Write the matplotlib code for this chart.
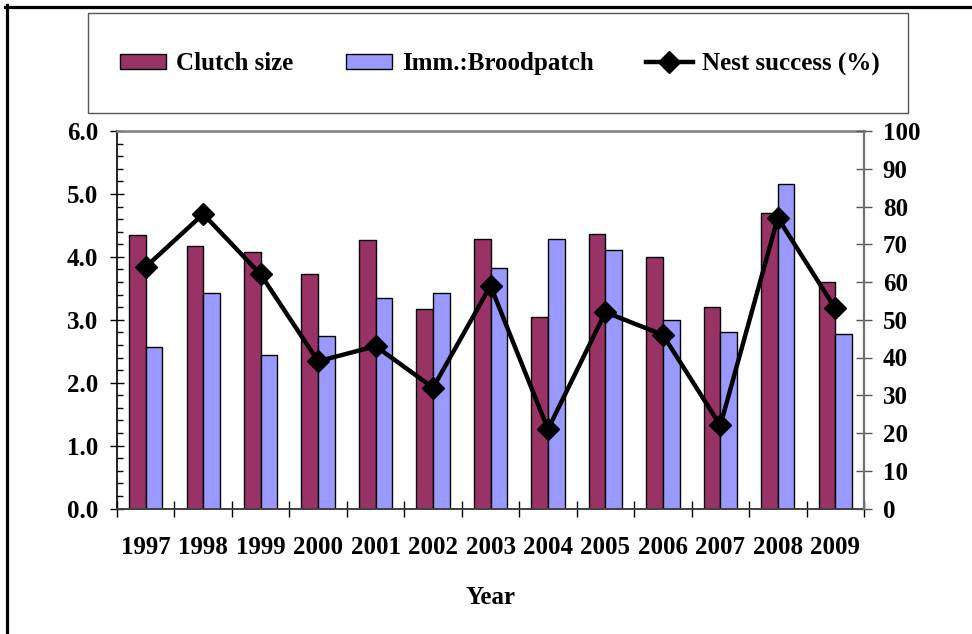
import numpy as np
import matplotlib
matplotlib.use('Agg')
import matplotlib.pyplot as plt
from matplotlib.patches import Rectangle
from matplotlib.lines import Line2D
from matplotlib.ticker import MultipleLocator

years = ['1997', '1998', '1999', '2000', '2001', '2002', '2003',
         '2004', '2005', '2006', '2007', '2008', '2009']
clutch_size = [4.35, 4.17, 4.07, 3.73, 4.27, 3.17, 4.29, 3.05, 4.37, 3.99, 3.20, 4.70, 3.60]
imm_broodpatch = [2.56, 3.43, 2.44, 2.74, 3.35, 3.43, 3.83, 4.29, 4.11, 2.99, 2.81, 5.16, 2.77]
nest_success = [64, 78, 62, 39, 43, 32, 59, 21, 52, 46, 22, 77, 53]

RED = '#993366'
BLUE = '#9999FF'

plt.rcParams['font.family'] = ['Liberation Serif', 'DejaVu Serif']
plt.rcParams['font.weight'] = 'bold'
FS = 18

W, H = 972, 634
fig = plt.figure(figsize=(W / 100, H / 100), dpi=100, facecolor='white')

# axes placed by pixel bounds of the reference plot area
x0, x1, ytop, ybot = 117, 864, 131, 508.5
ax = fig.add_axes([x0 / W, 1 - ybot / H, (x1 - x0) / W, (ybot - ytop) / H])
ax2 = ax.twinx()

x = np.arange(len(years))
bw = 0.29
ax.bar(x - bw / 2, clutch_size, bw, color=RED, edgecolor='black', linewidth=1.0,
       label='Clutch size', zorder=2)
ax.bar(x + bw / 2, imm_broodpatch, bw, color=BLUE, edgecolor='black', linewidth=1.0,
       label='Imm.:Broodpatch', zorder=2)
ax2.plot(x, nest_success, color='black', linewidth=3.2, marker='D', markersize=11,
         markerfacecolor='black', markeredgecolor='black', label='Nest success (%)')

ax.set_xlim(-0.5, len(years) - 0.5)
ax.set_ylim(0, 6)
ax2.set_ylim(0, 100)

ax.set_yticks(np.arange(0, 6.01, 1.0))
ax.set_yticklabels([f'{v:.1f}' for v in np.arange(0, 6.01, 1.0)])
ax.yaxis.set_minor_locator(MultipleLocator(0.2))
ax.tick_params(axis='y', which='major', direction='inout', length=9.5, width=1.0,
               labelsize=FS, pad=9)
ax.tick_params(axis='y', which='minor', direction='in', length=4.5, width=1.0)

ax2.set_yticks(np.arange(0, 101, 10))
ax2.tick_params(axis='y', which='major', direction='inout', length=11, width=1.0,
                labelsize=FS, pad=8, color='#555555')

ax.set_xticks(x)
ax.set_xticklabels(years)
ax.tick_params(axis='x', which='major', length=0, labelsize=FS, pad=20)
ax.set_xticks(np.arange(-0.5, len(years)), minor=True)
ax.tick_params(axis='x', which='minor', direction='inout', length=12, width=1.0)

for lab in ax.get_xticklabels() + ax.get_yticklabels() + ax2.get_yticklabels():
    lab.set_fontweight('bold')

ax.set_xlabel('Year', fontsize=FS, fontweight='bold', labelpad=19)

ax.spines['top'].set_color('#808080')
ax.spines['top'].set_linewidth(1.8)
ax.spines['left'].set_color('black')
ax.spines['left'].set_linewidth(1.2)
ax.spines['bottom'].set_color('#404040')
ax.spines['bottom'].set_linewidth(1.4)
ax.spines['right'].set_visible(False)
for s in ['top', 'left', 'bottom']:
    ax2.spines[s].set_visible(False)
ax2.spines['right'].set_color('#707070')
ax2.spines['right'].set_linewidth(1.6)

# legend box drawn separately, legend centred inside it
fig.patches.append(Rectangle((88 / W, 1 - 113 / H), (908 - 88) / W, (113 - 13) / H,
                             transform=fig.transFigure, facecolor='none',
                             edgecolor='#555555', linewidth=1.0))
h1, l1 = ax.get_legend_handles_labels()
h2, l2 = ax2.get_legend_handles_labels()
leg = fig.legend(h1 + h2, l1 + l2, loc='center', bbox_to_anchor=(500 / W, 1 - 64 / H),
                 ncol=3, frameon=False, handlelength=1.85, handleheight=0.56,
                 handletextpad=0.4, columnspacing=2.1,
                 prop={'size': FS, 'weight': 'bold'})

# outer frame (left and top edges only)
fig.lines.append(Line2D([6.5 / W, 6.5 / W], [0, 1 - 5 / H], transform=fig.transFigure,
                        color='black', linewidth=2.3))
fig.lines.append(Line2D([5 / W, 1], [1 - 6.5 / H, 1 - 6.5 / H], transform=fig.transFigure,
                        color='black', linewidth=2.3))

fig.savefig('out.png', dpi=100, facecolor='white')
